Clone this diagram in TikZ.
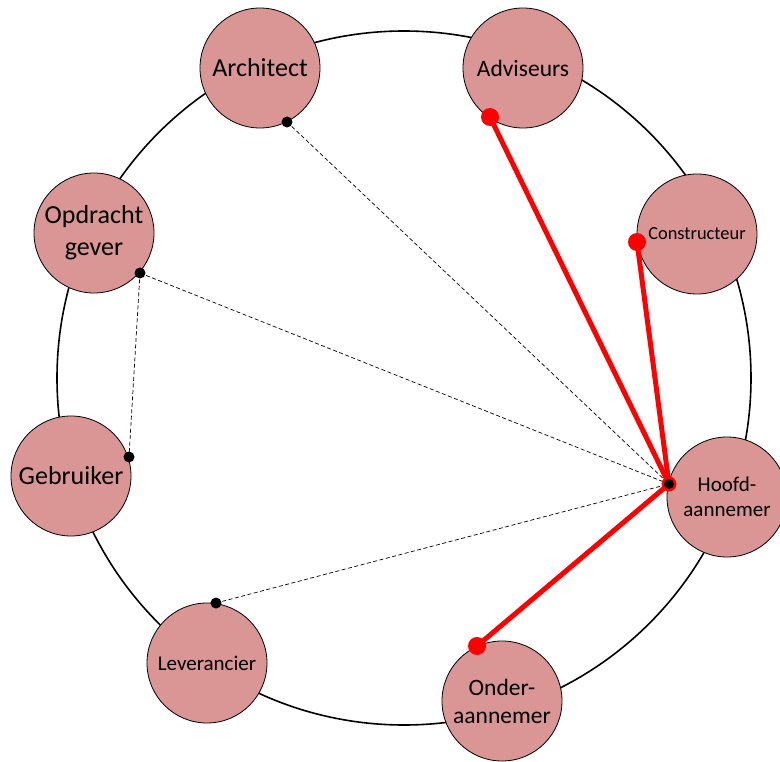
\documentclass[tikz,border=0pt]{standalone}
\usepackage{fontspec}
\setmainfont{Carlito}
\definecolor{bubble}{HTML}{D99694}
\begin{document}
\begin{tikzpicture}[x=1pt,y=-1pt,
  actor/.style={circle,draw=black,line width=0.8pt,fill=bubble,minimum size=120pt,inner sep=0pt,align=center,text=black},
  ring/.style={draw=black,line width=1.6pt},
  weak/.style={draw=black,line width=0.7pt,dash pattern=on 4pt off 2.5pt},
  strong/.style={draw=red,line width=5pt},
  bdot/.style={fill=black},
  rdot/.style={fill=red}]
\useasboundingbox (0,0) rectangle (780,762);
\draw[ring] (404,378) circle (347);
\node[actor,font=\fontsize{26}{30}\selectfont] (arch) at (260,68) {Architect};
\node[actor,font=\fontsize{23.5}{28}\selectfont] (adv) at (523,68) {Adviseurs};
\node[actor,font=\fontsize{26}{32}\selectfont] (opd) at (94,233) {Opdracht\\gever};
\node[actor,font=\fontsize{18.4}{22}\selectfont] (con) at (697,234) {Constructeur};
\node[actor,font=\fontsize{26}{30}\selectfont] (geb) at (71,476) {Gebruiker};
\node[actor,font=\fontsize{21}{25}\selectfont] (hfd) at (727,497) {Hoofd-\\aannemer};
\node[actor,font=\fontsize{21}{25}\selectfont] (lev) at (207,663) {Leverancier};
\node[actor,font=\fontsize{23.5}{28}\selectfont] (ond) at (502,701) {Onder-\\aannemer};
\coordinate (pArch) at (287,122);
\coordinate (pAdv) at (490,117);
\coordinate (pOpd) at (140,273);
\coordinate (pGeb) at (129,457);
\coordinate (pCon) at (637,242);
\coordinate (pHfd) at (669,484);
\coordinate (pLev) at (216,603);
\coordinate (pOnd) at (477,646);
\draw[weak] (pArch) -- (pHfd);
\draw[weak] (pOpd) -- (pHfd);
\draw[weak] (pOpd) -- (pGeb);
\draw[weak] (pLev) -- (pHfd);
\draw[strong] (pHfd) -- (pAdv);
\draw[strong] (pHfd) -- (pCon);
\draw[strong] (pHfd) -- (pOnd);
\fill[rdot] (pAdv) circle (9);
\fill[rdot] (pCon) circle (9);
\fill[rdot] (pOnd) circle (9);
\fill[rdot] (pHfd) circle (7.5);
\fill[bdot] (pHfd) circle (5);
\fill[bdot] (pArch) circle (5.5);
\fill[bdot] (pOpd) circle (5.5);
\fill[bdot] (pGeb) circle (5.5);
\fill[bdot] (pLev) circle (5.5);
\end{tikzpicture}
\end{document}
